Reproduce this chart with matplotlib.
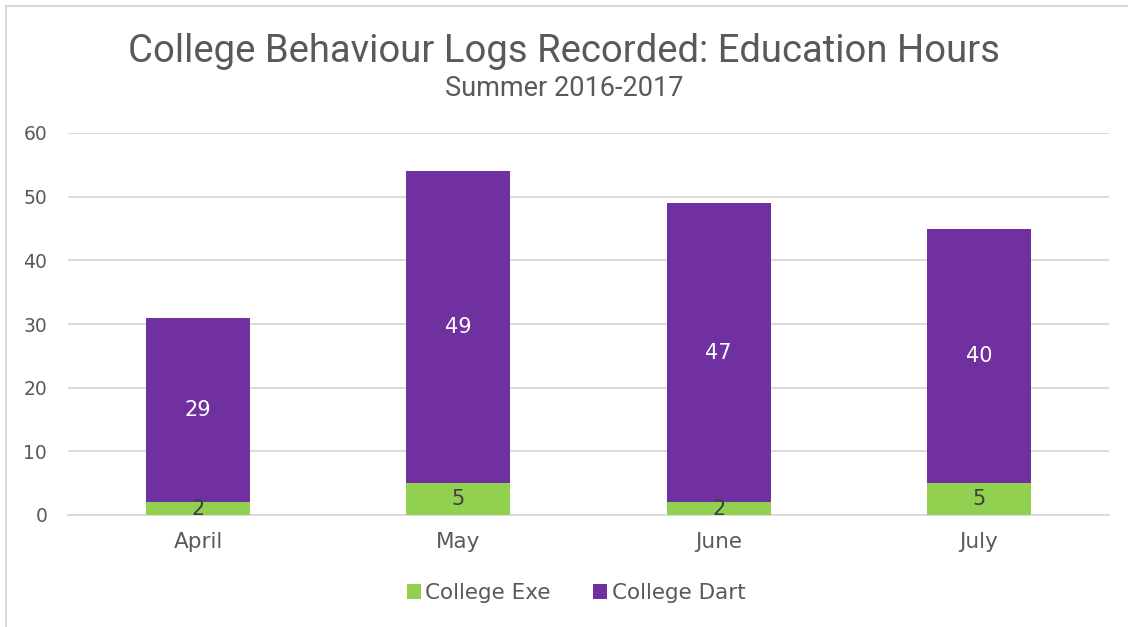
import matplotlib.pyplot as plt
from matplotlib.lines import Line2D

months = ['April', 'May', 'June', 'July']
exe_hours = [2, 5, 2, 5]
dart_hours = [29, 49, 47, 40]
series_names = ['College Exe', 'College Dart']
y_ticks = [0, 10, 20, 30, 40, 50, 60]

green = '#92d050'
purple = '#7030a0'
text_grey = '#595959'
grid_grey = '#d9d9d9'

plt.rcParams['font.family'] = ['DejaVu Sans']

fig = plt.figure(figsize=(11.28, 6.27), dpi=100)
ax = fig.add_axes([68 / 1128, 1 - 515 / 627, (1109 - 68) / 1128, (515 - 133) / 627])

x = list(range(len(months)))
b1 = ax.bar(x, exe_hours, width=0.4, color=green, label=series_names[0], zorder=3)
b2 = ax.bar(x, dart_hours, width=0.4, bottom=exe_hours, color=purple,
            label=series_names[1], zorder=3)

ax.bar_label(b1, labels=[str(v) for v in exe_hours], label_type='center',
             color='#404040', fontsize=15, zorder=4)
ax.bar_label(b2, labels=[str(v) for v in dart_hours], label_type='center',
             color='white', fontsize=15, zorder=4)

ax.set_xlim(-0.5, len(months) - 0.5)
ax.set_ylim(0, 60)
ax.set_yticks(y_ticks)
ax.set_xticks(x)
ax.set_xticklabels(months)
ax.tick_params(axis='y', length=0, labelsize=13.5, colors=text_grey, pad=15)
ax.tick_params(axis='x', length=0, labelsize=15.5, colors=text_grey, pad=12)
ax.yaxis.grid(True, color=grid_grey, linewidth=1.3, zorder=0)
for s in ['top', 'right', 'left']:
    ax.spines[s].set_visible(False)
ax.spines['bottom'].set_color(grid_grey)
ax.spines['bottom'].set_linewidth(1.3)

fig.text(0.5, 1 - 51 / 627, 'College Behaviour Logs Recorded: Education Hours',
         ha='center', va='center', fontsize=27.5, color=text_grey,
         family='Roboto')
fig.text(0.5, 1 - 88 / 627, 'Summer 2016-2017', ha='center', va='center',
         fontsize=19.5, color=text_grey, family='Roboto')

fig.legend(handles=[b1, b2], labels=series_names, loc='center',
           bbox_to_anchor=(576 / 1128, 1 - 593 / 627), ncol=2, frameon=False,
           fontsize=15.5, labelcolor=text_grey, handlelength=0.65, handleheight=0.65,
           handletextpad=0.2, columnspacing=2.0)

# thin frame along the top and left edges
fig.add_artist(Line2D([6 / 1128, 1], [1 - 6 / 627, 1 - 6 / 627],
                      transform=fig.transFigure, color=grid_grey, linewidth=1.5))
fig.add_artist(Line2D([6 / 1128, 6 / 1128], [0, 1 - 6 / 627],
                      transform=fig.transFigure, color=grid_grey, linewidth=1.5))

fig.savefig('out.png', dpi=100)
